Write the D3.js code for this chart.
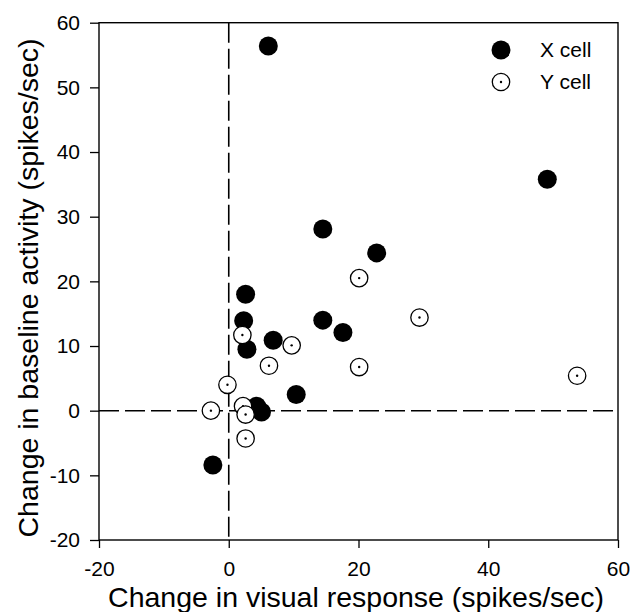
<!DOCTYPE html>
<html>
<head>
<meta charset="utf-8">
<script src="https://d3js.org/d3.v7.min.js"></script>
<style>
  body { margin: 0; background: #fff; }
  text { font-family: "Liberation Sans", Arial, sans-serif; fill: #000; }
</style>
</head>
<body>
<script>
// X cells (filled circles)
const xCellVisual   = [6.1, 49.1, 14.5, 22.8, 2.6, 2.3, 2.8, 6.85, 14.5, 17.6, 10.4, 4.3, 5.05, -2.45];
const xCellBaseline = [56.4, 35.8, 28.1, 24.4, 18.0, 13.9, 9.5, 10.9, 14.0, 12.1, 2.5, 0.7, -0.2, -8.4];

// Y cells (open circles with a center dot)
const yCellVisual   = [53.7, 20.1, 29.4, 20.1, 2.1, 9.7, 6.2, -0.2, -2.75, 2.2, 2.6, 2.6];
const yCellBaseline = [5.4, 20.5, 14.4, 6.75, 11.7, 10.1, 6.95, 4.0, 0.0, 0.7, -0.6, -4.3];

const xTicks = [-20, 0, 20, 40, 60];
const yTicks = [-20, -10, 0, 10, 20, 30, 40, 50, 60];
const legendLabels = ["X cell", "Y cell"];

const width = 642, height = 612;
const margin = {left: 99, top: 22.7, right: 24, bottom: 72};

const svg = d3.select("body").append("svg")
    .attr("width", width)
    .attr("height", height);

const x = d3.scaleLinear().domain([-20, 60]).range([margin.left, width - margin.right]);
const y = d3.scaleLinear().domain([-20, 60]).range([height - margin.bottom, margin.top]);

// axes
const xAxis = svg.append("g")
    .attr("transform", `translate(0,${y(-20)})`)
    .call(d3.axisBottom(x).tickValues(xTicks).tickSize(8).tickPadding(13));
const yAxis = svg.append("g")
    .attr("transform", `translate(${x(-20)},0)`)
    .call(d3.axisLeft(y).tickValues(yTicks).tickSize(9).tickPadding(10));

[xAxis, yAxis].forEach(g => {
    g.select(".domain").remove();
    g.selectAll("line").attr("stroke", "#000").attr("stroke-width", 1.3);
    g.selectAll("text")
        .style("font-size", "21px")
        .attr("fill", "#000")
        .text(d => d < 0 ? "-" + Math.abs(d) : d);
});

// frame
svg.append("rect")
    .attr("x", x(-20)).attr("y", y(60))
    .attr("width", x(60) - x(-20)).attr("height", y(-20) - y(60))
    .attr("fill", "none").attr("stroke", "#000").attr("stroke-width", 1.4);

// zero reference lines
svg.append("line")
    .attr("x1", x(0)).attr("x2", x(0)).attr("y1", y(60)).attr("y2", y(-20))
    .attr("stroke", "#000").attr("stroke-width", 1.6).attr("stroke-dasharray", "20,6");
svg.append("line")
    .attr("x1", x(-20)).attr("x2", x(60)).attr("y1", y(0)).attr("y2", y(0))
    .attr("stroke", "#000").attr("stroke-width", 1.6).attr("stroke-dasharray", "20,6");

const r = 9;

// X cells
svg.append("g").selectAll("circle")
    .data(d3.zip(xCellVisual, xCellBaseline))
    .join("circle")
        .attr("cx", d => x(d[0]))
        .attr("cy", d => y(d[1]))
        .attr("r", r + 0.5)
        .attr("fill", "#000");

// Y cells
const yGroups = svg.append("g").selectAll("g")
    .data(d3.zip(yCellVisual, yCellBaseline))
    .join("g")
        .attr("transform", d => `translate(${x(d[0])},${y(d[1])})`);
yGroups.append("circle")
    .attr("r", r - 0.3)
    .attr("fill", "#fff")
    .attr("stroke", "#000")
    .attr("stroke-width", 1.3);
yGroups.append("circle")
    .attr("r", 1.2)
    .attr("fill", "#000");

// legend
const legend = svg.append("g").attr("transform", "translate(501,50)");
legend.append("circle").attr("r", r + 0.5).attr("fill", "#000");
legend.append("circle").attr("cy", 32).attr("r", r - 0.3)
    .attr("fill", "#fff").attr("stroke", "#000").attr("stroke-width", 1.3);
legend.append("circle").attr("cy", 32).attr("r", 1.2).attr("fill", "#000");
legend.selectAll("text")
    .data(legendLabels)
    .join("text")
        .attr("x", 39)
        .attr("y", (d, i) => i * 32)
        .attr("dy", "0.35em")
        .style("font-size", "21px")
        .text(d => d);

// axis titles
svg.append("text")
    .attr("x", 356)
    .attr("y", 607)
    .attr("text-anchor", "middle")
    .style("font-size", "28.5px")
    .text("Change in visual response (spikes/sec)");

svg.append("text")
    .attr("transform", "translate(38,288) rotate(-90)")
    .attr("text-anchor", "middle")
    .style("font-size", "28.5px")
    .text("Change in baseline activity (spikes/sec)");
</script>
</body>
</html>
